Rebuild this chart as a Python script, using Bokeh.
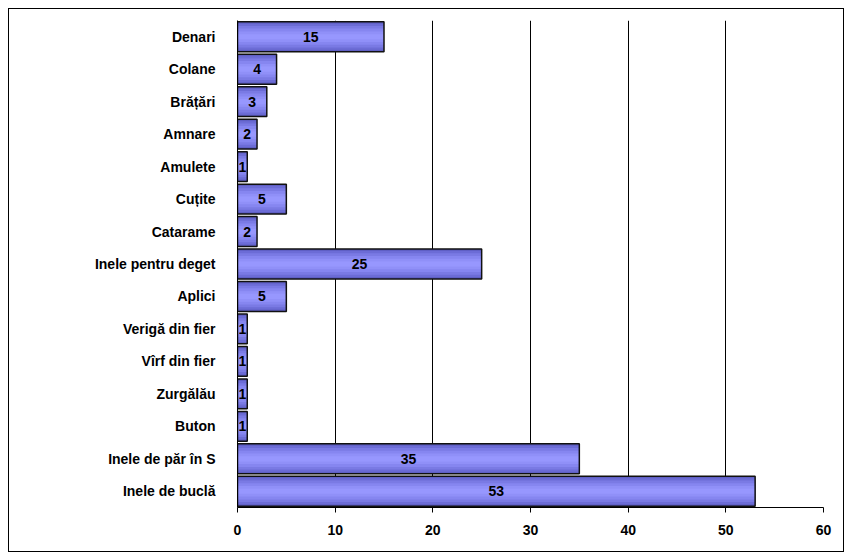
from bokeh.plotting import figure
from bokeh.models import ColumnDataSource, FactorRange, Range1d, FixedTicker
from bokeh.core.properties import value
from bokeh.embed import file_html
from bokeh.resources import INLINE

categories = ["Denari", "Colane", "Brățări", "Amnare", "Amulete", "Cuțite", "Catarame",
              "Inele pentru deget", "Aplici", "Verigă din fier", "Vîrf din fier",
              "Zurgălău", "Buton", "Inele de păr în S", "Inele de buclă"]
counts = [15, 4, 3, 2, 1, 5, 2, 25, 5, 1, 1, 1, 1, 35, 53]
x_ticks = [0, 10, 20, 30, 40, 50, 60]

src = ColumnDataSource(data=dict(
    cat=categories,
    val=counts,
    mid=[v / 2 for v in counts],
    lab=[str(v) for v in counts],
))

FONT = "Liberation Sans"

p = figure(width=836, height=544, output_backend="svg", toolbar_location=None,
           y_range=FactorRange(factors=list(reversed(categories)), range_padding=0),
           x_range=Range1d(0, 60),
           min_border_left=228, min_border_right=22, min_border_top=11, min_border_bottom=46)

p.outline_line_color = None
p.border_fill_color = "white"
p.background_fill_color = "white"

# gradient-like bars
layers = [(0.92, "#5f5fc4"), (0.8, "#6c6cd6"), (0.66, "#7a7ae4"), (0.5, "#8686f0"), (0.32, "#9090f8"), (0.16, "#9797fe")]
for h, c in layers:
    p.hbar(y="cat", right="val", left=0, height=h, source=src, fill_color=c, line_color=None)
p.hbar(y="cat", right="val", left=0, height=0.92, source=src, fill_color=None,
       line_color="#111111", line_width=1.5)

p.text(x="mid", y="cat", text="lab", source=src, text_align="center", text_baseline="middle",
       text_font=value(FONT), text_font_style="bold", text_font_size="14px", text_color="black")

# grid
p.ygrid.grid_line_color = None
p.xgrid.grid_line_color = "black"
p.xgrid.grid_line_width = 1
p.xgrid.ticker = FixedTicker(ticks=x_ticks)
p.xgrid.level = "underlay"

p.xaxis.ticker = FixedTicker(ticks=x_ticks)
p.xaxis.major_tick_out = 5
p.xaxis.major_tick_in = 0
p.xaxis.minor_tick_line_color = None
p.xaxis.axis_line_color = "black"
p.xaxis.major_label_text_font = FONT
p.xaxis.major_label_text_font_style = "bold"
p.xaxis.major_label_text_font_size = "14px"
p.xaxis.major_label_text_color = "black"
p.xaxis.major_label_standoff = 12

p.yaxis.major_tick_line_color = None
p.yaxis.minor_tick_line_color = None
p.yaxis.axis_line_color = "black"
p.yaxis.major_label_text_font = FONT
p.yaxis.major_label_text_font_style = "bold"
p.yaxis.major_label_text_font_size = "14px"
p.yaxis.major_label_text_color = "black"
p.yaxis.major_label_standoff = 16

p.styles = {"border": "1px solid black"}

html = file_html(p, INLINE)
html = html.replace("<body>", "<body style=\"margin:8px\">")
open("out.html", "w").write(html)
